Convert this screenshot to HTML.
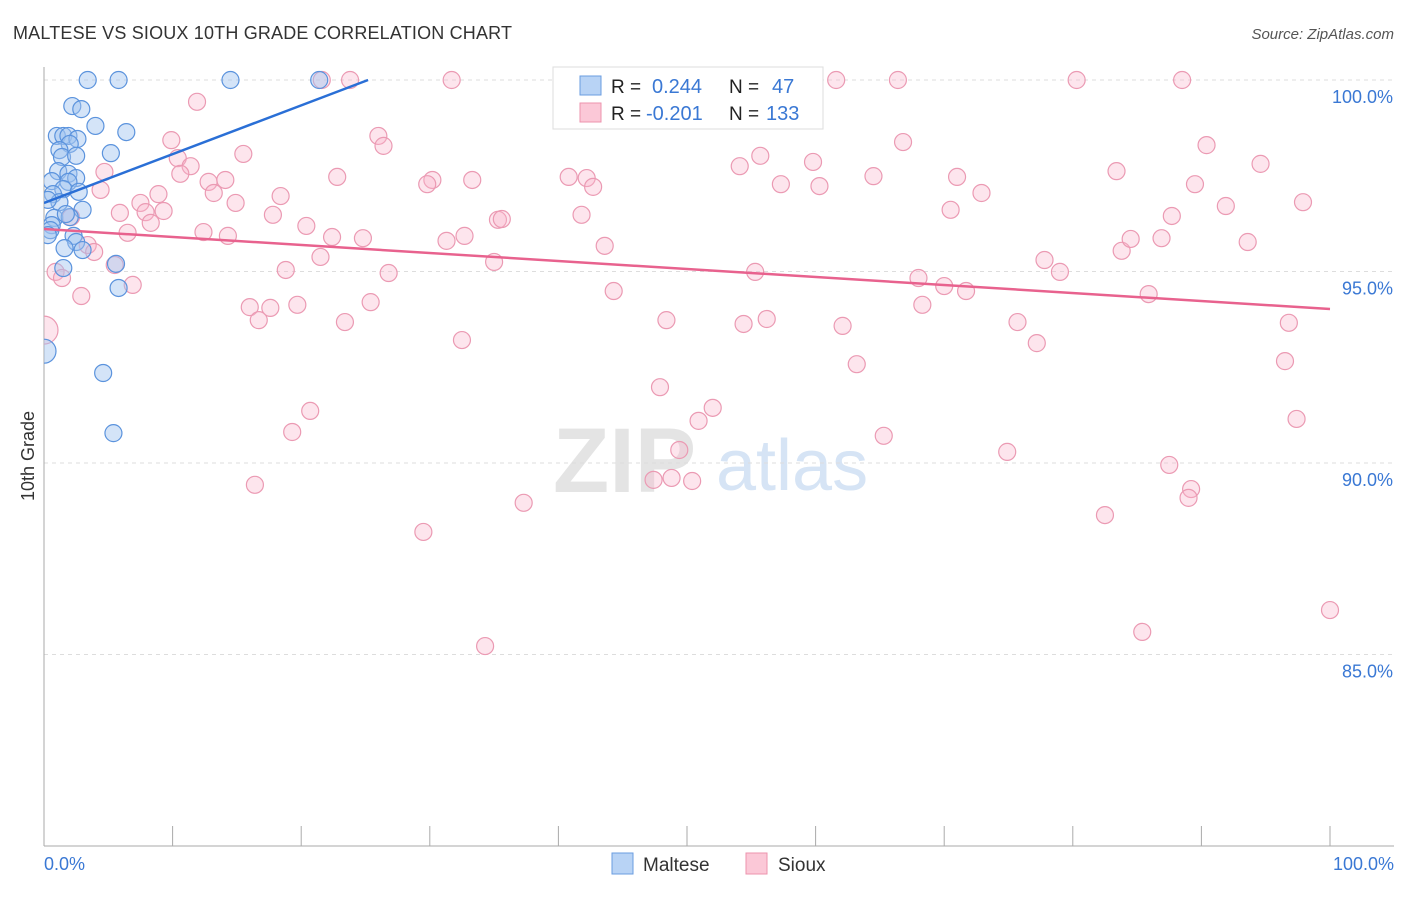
<!DOCTYPE html>
<html><head><meta charset="utf-8"><style>
body{margin:0;background:#fff;font-family:"Liberation Sans",sans-serif;}
svg text{font-family:"Liberation Sans",sans-serif;}
</style></head><body>
<svg id="chart" width="1406" height="892" viewBox="0 0 1406 892" xmlns="http://www.w3.org/2000/svg">
<defs><clipPath id="plotclip"><rect x="44" y="50" width="1360" height="796"/></clipPath></defs>
<text x="13" y="39" font-size="18" fill="#333" textLength="499">MALTESE VS SIOUX 10TH GRADE CORRELATION CHART</text>
<text x="1394" y="39" font-size="15" fill="#555" text-anchor="end" font-style="italic">Source: ZipAtlas.com</text>
<g>
<text x="553" y="492" font-size="92" fill="#e4e4e4" font-family="Liberation Serif" font-weight="bold">ZIP</text>
<text x="716" y="490" font-size="72" fill="#d6e4f5">atlas</text>
</g>
<g id="grid"></g>
<g id="axes"></g>
<g id="marks" clip-path="url(#plotclip)"></g>
<g>
<rect x="553" y="67" width="270" height="62" fill="#fff" stroke="#ddd"/>
<rect x="580" y="76" width="21" height="19" fill="#b8d3f5" stroke="#6a9de0"/>
<rect x="580" y="103" width="21" height="19" fill="#fbc8d7" stroke="#ec93ae"/>
<text x="611" y="93" font-size="19" fill="#222">R =</text>
<text x="652" y="93" font-size="20" fill="#3a78d4">0.244</text>
<text x="729" y="93" font-size="19" fill="#222">N =</text>
<text x="772" y="93" font-size="20" fill="#3a78d4">47</text>
<text x="611" y="120" font-size="19" fill="#222">R =</text>
<text x="646" y="120" font-size="20" fill="#3a78d4">-0.201</text>
<text x="729" y="120" font-size="19" fill="#222">N =</text>
<text x="766" y="120" font-size="20" fill="#3a78d4">133</text>
</g>
<g>
<rect x="612" y="853" width="21" height="21" fill="#b8d3f5" stroke="#6a9de0"/>
<text x="643" y="871" font-size="19" fill="#333">Maltese</text>
<rect x="746" y="853" width="21" height="21" fill="#fbc8d7" stroke="#ec93ae"/>
<text x="778" y="871" font-size="19" fill="#333">Sioux</text>
</g>
<text transform="translate(34,456) rotate(-90)" font-size="18" fill="#333" text-anchor="middle">10th Grade</text>
</svg>
<script>
const yTicks=[100,95,90,85];
const yTickLabels=["100.0%","95.0%","90.0%","85.0%"];
const xTickVals=[0,10,20,30,40,50,60,70,80,90,100];
const blueX=[3.4,5.8,14.5,21.4,2.2,2.9,4.0,6.4,1.0,1.5,1.9,2.6,2.0,1.2,1.4,2.5,5.2,1.1,1.9,0.6,2.5,1.9,1.5,2.7,0.7,1.2,3.0,0.8,2.0,0.6,0.5,0.3,2.3,2.5,1.6,3.0,5.6,1.5,5.8,4.6,5.4,0,1.7,0.3];
const blueY=[100,100,100,100,99.32,99.24,98.8,98.64,98.54,98.54,98.54,98.46,98.33,98.17,97.99,98.02,98.09,97.62,97.55,97.36,97.44,97.34,97.15,97.08,97.02,96.81,96.61,96.40,96.42,96.21,96.08,95.95,95.93,95.77,95.61,95.56,95.20,95.09,94.57,92.35,90.78,92.92,96.5,96.87];
const pinkX=[21.6,23.8,31.7,61.6,66.4,80.3,88.5,11.9,9.9,26.0,26.4,15.5,10.4,11.4,4.7,10.6,12.8,14.1,22.8,30.2,29.8,33.3,40.8,42.2,42.7,54.1,55.7,59.8,57.3,60.3,64.5,66.8,71.0,72.9,70.5,83.4,90.4,89.5,94.6,91.9,97.9,87.7,4.4,7.5,8.9,13.2,14.9,18.4,5.9,7.9,9.3,8.3,6.5,2.1,17.8,20.4,22.4,24.8,12.4,14.3,41.8,35.3,35.6,31.3,32.7,43.6,3.4,3.9,21.5,35.0,18.8,26.8,5.5,0.9,1.4,6.9,2.9,55.3,68.0,70.0,71.7,77.8,79.0,83.8,84.5,86.9,93.6,85.9,44.3,16.0,17.6,19.7,25.4,16.7,23.4,68.3,48.4,54.4,56.2,62.1,75.7,77.2,96.8,32.5,63.2,96.5,47.9,52.0,50.9,20.7,19.3,65.3,97.4,49.4,74.9,16.4,47.4,48.8,50.4,87.5,89.2,89.0,37.3,82.5,29.5,85.4,34.3,100,0];
const pinkY=[100,100,100,100,100,100,100,99.43,98.43,98.54,98.28,98.07,97.96,97.75,97.6,97.55,97.34,97.39,97.47,97.39,97.28,97.39,97.47,97.44,97.21,97.75,98.02,97.86,97.28,97.23,97.49,98.38,97.47,97.05,96.61,97.62,98.3,97.28,97.81,96.71,96.81,96.45,97.13,96.79,97.02,97.05,96.79,96.97,96.53,96.55,96.58,96.27,96.01,96.42,96.48,96.19,95.9,95.87,96.03,95.93,96.48,96.35,96.37,95.8,95.93,95.67,95.69,95.51,95.38,95.25,95.04,94.96,95.17,94.99,94.83,94.65,94.36,94.99,94.83,94.62,94.49,95.3,94.99,95.54,95.85,95.87,95.77,94.41,94.49,94.07,94.05,94.13,94.2,93.73,93.68,94.13,93.73,93.63,93.76,93.58,93.68,93.13,93.66,93.21,92.58,92.66,91.98,91.44,91.1,91.36,90.81,90.71,91.15,90.34,90.29,89.43,89.56,89.61,89.53,89.95,89.32,89.09,88.96,88.64,88.2,85.59,85.22,86.16,93.47];
const blueTrendX=[0,25.2];
const blueTrendY=[96.79,100];
const pinkTrendX=[0,100];
const pinkTrendY=[96.11,94.02];
const NS="http://www.w3.org/2000/svg";
const X0=44,X1=1330,Ytop=80,pxPerPct=38.3;
function sx(v){return X0+(X1-X0)*v/100;}
function sy(v){return Ytop+(100-v)*pxPerPct;}
function mk(tag,attrs,parent){const e=document.createElementNS(NS,tag);for(const k in attrs)e.setAttribute(k,attrs[k]);parent.appendChild(e);return e;}
const grid=document.getElementById('grid'),axes=document.getElementById('axes'),marks=document.getElementById('marks');
yTicks.forEach((t,i)=>{
  const l=mk('line',{x1:X0,x2:1394,y1:sy(t),y2:sy(t),stroke:'#ddd','stroke-dasharray':'4,4'},grid);
  
  
  const tx=mk('text',{x:1393,y:sy(t)+23,'font-size':18,fill:'#3a78d4','text-anchor':'end'},axes);
  tx.textContent=yTickLabels[i];
  
  
});
const ya=mk('line',{x1:X0,x2:X0,y1:67,y2:846,stroke:'#aaa'},axes);


const xa=mk('line',{x1:X0,x2:1394,y1:846,y2:846,stroke:'#aaa'},axes);


xTickVals.forEach(v=>{
  const t=mk('line',{x1:sx(v),x2:sx(v),y1:826,y2:846,stroke:'#aaa'},axes);
  
  
});
[["0.0%",44,'start'],["100.0%",1394,'end']].forEach(a=>{
  const t=mk('text',{x:a[1],y:870,'font-size':18,fill:'#3a78d4','text-anchor':a[2]},axes);
  t.textContent=a[0];
  
  
});
pinkX.forEach((x,i)=>{
  const c=mk('circle',{cx:sx(x),cy:sy(pinkY[i]),r:(x===0?14:8.5),fill:'rgba(248,180,202,0.35)',stroke:'#eb9ab3','stroke-width':1.2},marks);
  
  
});
blueX.forEach((x,i)=>{
  const c=mk('circle',{cx:sx(x),cy:sy(blueY[i]),r:(x===0?12:8.5),fill:'rgba(160,196,240,0.45)',stroke:'#5b93dd','stroke-width':1.2},marks);
  
  
});
const pl=mk('line',{x1:sx(pinkTrendX[0]),y1:sy(pinkTrendY[0]),x2:sx(pinkTrendX[1]),y2:sy(pinkTrendY[1]),stroke:'#e8628e','stroke-width':2.5},marks);


const bl=mk('line',{x1:sx(blueTrendX[0]),y1:sy(blueTrendY[0]),x2:sx(blueTrendX[1]),y2:sy(blueTrendY[1]),stroke:'#2a6fd6','stroke-width':2.5},marks);


</script>
</body></html>
